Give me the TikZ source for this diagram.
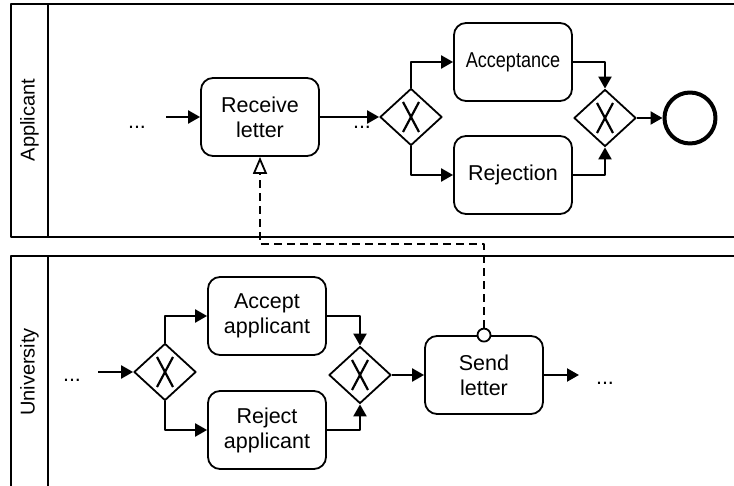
\documentclass[tikz,border=0pt]{standalone}
\usepackage{fontspec}
\setmainfont{Liberation Sans}
\usepackage{graphicx}
\usetikzlibrary{arrows.meta,shapes.geometric}

\tikzset{
  pool/.style={line width=1pt},
  lanelabel/.style={rotate=90, inner sep=0pt, font=\fontsize{10}{12}\selectfont},
  task/.style={draw, rounded corners=6pt, line width=0.9pt, minimum width=59pt,
    minimum height=39pt, align=center, inner sep=1pt,
    font=\fontsize{10.75}{12.5}\selectfont},
  gateway/.style={draw, diamond, line width=0.9pt, minimum width=31pt,
    minimum height=28.5pt, inner sep=0pt},
  gwmark/.style={line width=1.1pt},
  endevent/.style={draw, circle, line width=2pt, minimum size=25.5pt, inner sep=0pt},
  dots/.style={anchor=base, inner sep=0pt, font=\fontsize{10.75}{12.5}\selectfont},
  flow/.style={line width=1.1pt, -{Triangle[length=6pt,width=6.5pt]}},
  msgflow/.style={line width=1pt, dash pattern=on 4pt off 2.5pt,
    -{Triangle[open,length=8.5pt,width=7pt,line width=0.9pt]}},
  msgstart/.style={draw, circle, fill=white, line width=0.9pt, minimum size=6.5pt, inner sep=0pt}
}

\begin{document}
\begin{tikzpicture}[line join=round,x=0.5pt,y=0.5pt]
\useasboundingbox (0,0) rectangle (734,486);
% pools
\draw[pool] (734,482) -- (11,482) -- (11,249) -- (734,249);
\draw[pool] (48,482) -- (48,249);
\draw[pool] (734,230) -- (11,230) -- (11,0);
\draw[pool] (48,230) -- (48,0);
\node[lanelabel] (applicant) at (29.5,366) {Applicant};
\node[lanelabel] (university) at (29.5,114) {University};

% applicant
\node[dots] (dotsA) at (137,357) {...};
\coordinate (inA) at (166,369);
\node[task] (recv) at (260,369) {Receive\\letter};
\node[dots] (dotsB) at (362,357) {...};
\node[gateway] (gw1) at (411,369) {};
\node[task] (acc) at (513,424) {\scalebox{0.84}[1]{Acceptance}};
\node[task] (rej) at (513,311) {Rejection};
\node[gateway] (gw2) at (605,368) {};
\node[endevent] (end) at (690,368) {};

% university
\node[dots] (dotsC) at (72,104) {...};
\coordinate (inC) at (98,114);
\node[gateway] (gw3) at (165,114) {};
\node[task] (accapp) at (267,170) {Accept\\applicant};
\node[task] (rejapp) at (267,56) {Reject\\applicant};
\node[gateway] (gw4) at (360,111) {};
\node[task] (send) at (484,111) {Send\\letter};
\coordinate (outD) at (579,111);
\node[dots] (dotsD) at (605,101) {...};

% gateway markers
\foreach \g in {gw1,gw2,gw3,gw4}
\draw[gwmark,shift={(\g)}] (-8,-15) -- (8,15) (-8,15) -- (8,-15);

% sequence flows
\draw[flow] (inA) -- (recv);
\draw[flow] (recv) -- (gw1);
\draw[flow] (gw1.north) |- (acc);
\draw[flow] (gw1.south) |- (rej);
\draw[flow] (acc.east) -| (gw2.north);
\draw[flow] (rej.east) -| (gw2.south);
\draw[flow] (gw2) -- (end);
\draw[flow] (inC) -- (gw3);
\draw[flow] (gw3.north) |- (accapp);
\draw[flow] (gw3.south) |- (rejapp);
\draw[flow] (accapp.east) -| (gw4.north);
\draw[flow] (rejapp.east) -| (gw4.south);
\draw[flow] (gw4) -- (send);
\draw[flow] (send) -- (outD);

% message flow
\node[msgstart] (msg) at (send.north) {};
\coordinate (turn) at (0,242);
\draw[msgflow] (msg.north) -- (msg.north |- turn) -- (recv.south |- turn) -- (recv.south);
\end{tikzpicture}
\end{document}
